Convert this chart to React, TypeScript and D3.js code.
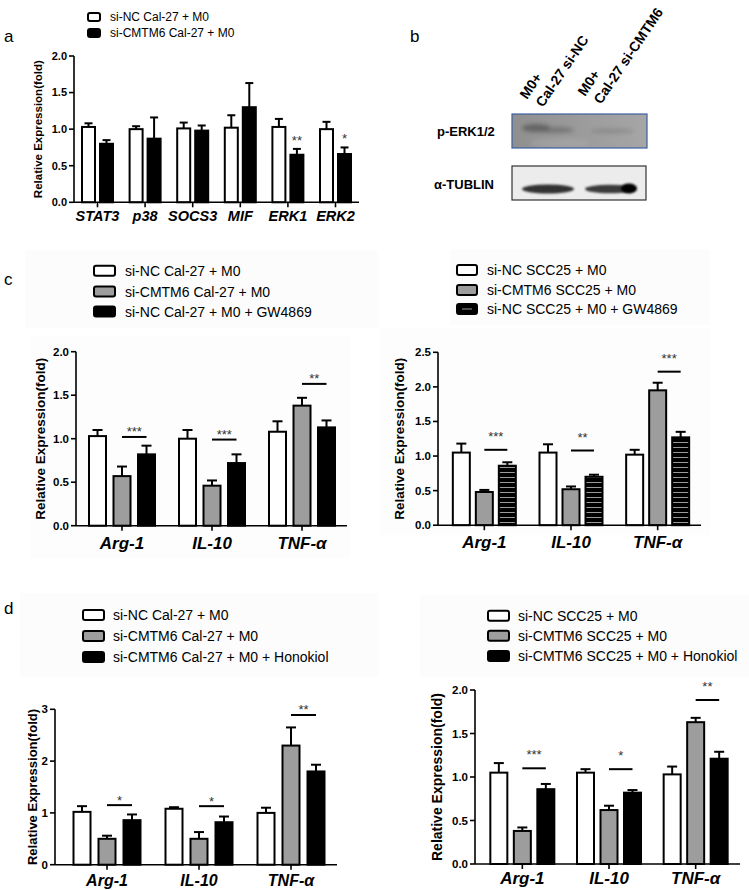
import React from "react";
import * as d3 from "d3";

const FONT = "'Liberation Sans', Arial, Helvetica, sans-serif";

// ---------- Panel a ----------
const A_CATS = ["STAT3", "p38", "SOCS3", "MIF", "ERK1", "ERK2"];
const A_LEGEND = ["si-NC Cal-27 + M0", "si-CMTM6 Cal-27 + M0"];
const A_NC = [1.03, 1.0, 1.01, 1.02, 1.03, 1.0];
const A_NC_SEM = [0.05, 0.04, 0.08, 0.17, 0.11, 0.1];
const A_KD = [0.8, 0.87, 0.98, 1.3, 0.65, 0.66];
const A_KD_SEM = [0.05, 0.29, 0.07, 0.33, 0.08, 0.09];
const A_STARS = ["", "", "", "", "**", "*"];
const A_TICKS = [0, 0.5, 1.0, 1.5, 2.0];

// ---------- Panels c / d ----------
const CYTO_CATS = ["Arg-1", "IL-10", "TNF-α"];

const CL_LEGEND = ["si-NC Cal-27 + M0", "si-CMTM6 Cal-27 + M0", "si-NC Cal-27 + M0 + GW4869"];
const CL_NC = [1.03, 1.0, 1.08];
const CL_NC_SEM = [0.07, 0.1, 0.12];
const CL_KD = [0.57, 0.46, 1.38];
const CL_KD_SEM = [0.11, 0.06, 0.09];
const CL_GW = [0.82, 0.72, 1.13];
const CL_GW_SEM = [0.1, 0.1, 0.08];
const CL_SIG_Y = [1.02, 0.99, 1.63];
const CL_SIG = ["***", "***", "**"];
const CL_TICKS = [0, 0.5, 1.0, 1.5, 2.0];

const CR_LEGEND = ["si-NC SCC25 + M0", "si-CMTM6 SCC25 + M0", "si-NC SCC25 + M0 + GW4869"];
const CR_NC = [1.05, 1.05, 1.02];
const CR_NC_SEM = [0.13, 0.12, 0.07];
const CR_KD = [0.48, 0.52, 1.95];
const CR_KD_SEM = [0.03, 0.04, 0.11];
const CR_GW = [0.86, 0.7, 1.27];
const CR_GW_SEM = [0.05, 0.03, 0.08];
const CR_SIG_Y = [1.09, 1.08, 2.22];
const CR_SIG = ["***", "**", "***"];
const CR_TICKS = [0, 0.5, 1.0, 1.5, 2.0, 2.5];

const DL_LEGEND = ["si-NC Cal-27 + M0", "si-CMTM6 Cal-27 + M0", "si-CMTM6 Cal-27 + M0 + Honokiol"];
const DL_NC = [1.02, 1.08, 1.0];
const DL_NC_SEM = [0.11, 0.03, 0.1];
const DL_KD = [0.5, 0.5, 2.3];
const DL_KD_SEM = [0.06, 0.13, 0.35];
const DL_HK = [0.86, 0.82, 1.8];
const DL_HK_SEM = [0.11, 0.11, 0.13];
const DL_SIG_Y = [1.15, 1.13, 2.89];
const DL_SIG = ["*", "*", "**"];
const DL_TICKS = [0, 1, 2, 3];

const DR_LEGEND = ["si-NC SCC25 + M0", "si-CMTM6 SCC25 + M0", "si-CMTM6 SCC25 + M0 + Honokiol"];
const DR_NC = [1.05, 1.05, 1.03];
const DR_NC_SEM = [0.11, 0.04, 0.09];
const DR_KD = [0.38, 0.62, 1.63];
const DR_KD_SEM = [0.04, 0.05, 0.05];
const DR_HK = [0.86, 0.82, 1.21];
const DR_HK_SEM = [0.06, 0.03, 0.08];
const DR_SIG_Y = [1.1, 1.09, 1.885];
const DR_SIG = ["***", "*", "**"];
const DR_TICKS = [0, 0.5, 1.0, 1.5, 2.0];

const Y_LABEL = "Relative Expression(fold)";

const WHITE = "#ffffff";
const GRAY = "#9d9d9d";
const BLACK = "#000000";
const STRIPE = "url(#hstripe)";

type Series = { values: number[]; sem: number[]; fill: string };

type PanelProps = {
  cats: string[];
  series: Series[];
  yMax: number;
  yRange: [number, number];
  axisX: number;
  axisEnd: number;
  bandRange: [number, number];
  barW: number;
  offset: number;
  ticks: number[];
  fmt: string;
  sigY?: number[];
  sigLabels?: string[];
  sigDy?: number;
  stars?: string[];
  catFs: number;
  catDy: number;
  tickFs: number;
  yLabelX: number;
  yLabelFs: number;
  capW: number;
};

function BarPanel(p: PanelProps) {
  const y = d3.scaleLinear().domain([0, p.yMax]).range(p.yRange);
  const x = d3.scaleBand().domain(p.cats).range(p.bandRange);
  const n = p.series.length;
  const cx = (c: string) => (x(c) as number) + x.bandwidth() / 2;
  const bx = (c: string, k: number) => cx(c) + (k - (n - 1) / 2) * p.offset;
  const f = d3.format(p.fmt);
  const base = p.yRange[0];
  const yMid = (p.yRange[0] + p.yRange[1]) / 2;
  return (
    <g>
      {p.series.map((s, k) =>
        p.cats.map((c, i) => {
          const v = s.values[i];
          const xc = bx(c, k);
          const top = y(v + s.sem[i]);
          return (
            <g key={`b${k}-${i}`}>
              <line x1={xc} x2={xc} y1={y(v)} y2={top} stroke="#000" strokeWidth={2} />
              <line x1={xc - p.capW / 2} x2={xc + p.capW / 2} y1={top} y2={top} stroke="#000" strokeWidth={2} />
              <rect x={xc - p.barW / 2} y={y(v)} width={p.barW} height={base - y(v)} fill={s.fill} stroke="#000" strokeWidth={2} />
            </g>
          );
        })
      )}
      <line x1={p.axisX} x2={p.axisX} y1={p.yRange[1]} y2={base} stroke="#000" strokeWidth={1.6} />
      {p.ticks.map((t) => (
        <g key={`t${t}`}>
          <line x1={p.axisX - 5} x2={p.axisX} y1={y(t)} y2={y(t)} stroke="#000" strokeWidth={1.6} />
          <text x={p.axisX - 7} y={y(t)} dy="0.35em" textAnchor="end" fontSize={p.tickFs} fontWeight="bold" fontFamily={FONT}>
            {f(t)}
          </text>
        </g>
      ))}
      <text
        transform={`translate(${p.yLabelX},${yMid}) rotate(-90)`}
        textAnchor="middle"
        fontSize={p.yLabelFs}
        fontWeight="bold"
        fontFamily={FONT}
      >
        {Y_LABEL}
      </text>
      <line x1={p.axisX} x2={p.axisEnd} y1={base} y2={base} stroke="#000" strokeWidth={1.6} />
      {p.cats.map((c) => (
        <g key={`x${c}`}>
          <line x1={cx(c)} x2={cx(c)} y1={base} y2={base + 5} stroke="#000" strokeWidth={1.6} />
          <text x={cx(c)} y={base + p.catDy} textAnchor="middle" fontSize={p.catFs} fontWeight="bold" fontStyle="italic" fontFamily={FONT}>
            {c}
          </text>
        </g>
      ))}
      {p.sigY &&
        p.cats.map((c, i) => {
          const x1 = bx(c, 1);
          const x2 = bx(c, 2);
          const yy = y(p.sigY![i]);
          return (
            <g key={`s${c}`}>
              <line x1={x1} x2={x2} y1={yy} y2={yy} stroke="#000" strokeWidth={2} />
              <text x={(x1 + x2) / 2} y={yy - (p.sigDy || 0)} textAnchor="middle" fontSize={13} fill="#333" fontFamily={FONT}>
                {p.sigLabels![i]}
              </text>
            </g>
          );
        })}
      {p.stars &&
        p.cats.map((c, i) => {
          const s = p.series[n - 1];
          const top = y(s.values[i] + s.sem[i]);
          return (
            <text key={`st${c}`} x={bx(c, n - 1)} y={top - 4} textAnchor="middle" fontSize={13} fill="#333" fontFamily={FONT}>
              {p.stars![i]}
            </text>
          );
        })}
    </g>
  );
}

function Legend({ x, ys, labels, fills, w, h, fs, gap }: { x: number; ys: number[]; labels: string[]; fills: string[]; w: number; h: number; fs: number; gap: number }) {
  return (
    <g>
      {labels.map((l, i) => (
        <g key={l}>
          <rect x={x} y={ys[i] - h / 2} width={w} height={h} rx={2} fill={fills[i]} stroke="#000" strokeWidth={2} />
          <text x={x + w + gap} y={ys[i]} dy="0.36em" fontSize={fs} fontFamily={FONT}>
            {l}
          </text>
        </g>
      ))}
    </g>
  );
}

function Blot() {
  return (
    <g>
      <defs>
        <filter id="blur2" x="-30%" y="-100%" width="160%" height="300%">
          <feGaussianBlur stdDeviation="2" />
        </filter>
        <filter id="blur1" x="-30%" y="-100%" width="160%" height="300%">
          <feGaussianBlur stdDeviation="1.3" />
        </filter>
        <linearGradient id="upperBg" x1="0" x2="1" y1="0" y2="0">
          <stop offset="0" stopColor="#8f8f8f" />
          <stop offset="0.45" stopColor="#9a9a9a" />
          <stop offset="1" stopColor="#a6a6a6" />
        </linearGradient>
        <clipPath id="upClip">
          <rect x={512} y={114} width={135} height={34} />
        </clipPath>
        <clipPath id="loClip">
          <rect x={512} y={166} width={134} height={34} />
        </clipPath>
      </defs>
      <g transform="translate(527,100) rotate(-56)">
        <text x={0} y={0} fontSize={14} fontWeight="bold" fontFamily={FONT}>M0+</text>
        <text x={2.3} y={17.7} fontSize={14} fontWeight="bold" fontFamily={FONT}>Cal-27 si-NC</text>
      </g>
      <g transform="translate(585,97) rotate(-56)">
        <text x={0} y={0} fontSize={14} fontWeight="bold" fontFamily={FONT}>M0+</text>
        <text x={2.3} y={17.7} fontSize={14} fontWeight="bold" fontFamily={FONT}>Cal-27 si-CMTM6</text>
      </g>
      <text x={437} y={131} dy="0.35em" fontSize={13} fontWeight="bold" fontFamily={FONT}>p-ERK1/2</text>
      <text x={434} y={184} dy="0.35em" fontSize={13} fontWeight="bold" fontFamily={FONT}>α-TUBLIN</text>
      <g clipPath="url(#upClip)">
        <rect x={512} y={114} width={135} height={34} fill="url(#upperBg)" />
        <ellipse cx={536} cy={128} rx={14} ry={4} fill="#444" opacity={0.6} filter="url(#blur2)" />
        <ellipse cx={558} cy={130} rx={16} ry={3} fill="#555" opacity={0.5} filter="url(#blur2)" />
        <ellipse cx={612} cy={131} rx={22} ry={2.5} fill="#666" opacity={0.35} filter="url(#blur2)" />
        <ellipse cx={560} cy={143} rx={30} ry={5} fill="#b8b8b8" opacity={0.3} filter="url(#blur2)" />
      </g>
      <rect x={512} y={114} width={135} height={34} fill="none" stroke="#3c5f9e" strokeWidth={1.2} />
      <g clipPath="url(#loClip)">
        <rect x={512} y={166} width={134} height={34} fill="#ececec" />
        <ellipse cx={548} cy={189} rx={26} ry={4.5} fill="#333" filter="url(#blur1)" />
        <ellipse cx={610} cy={189} rx={25} ry={4.3} fill="#3a3a3a" filter="url(#blur1)" />
        <ellipse cx={629} cy={188.5} rx={8} ry={5} fill="#050505" filter="url(#blur1)" />
      </g>
      <rect x={512} y={166} width={134} height={34} fill="none" stroke="#333" strokeWidth={1.2} />
    </g>
  );
}

export default function App() {
  const aSeries: Series[] = [
    { values: A_NC, sem: A_NC_SEM, fill: WHITE },
    { values: A_KD, sem: A_KD_SEM, fill: BLACK },
  ];
  const clSeries: Series[] = [
    { values: CL_NC, sem: CL_NC_SEM, fill: WHITE },
    { values: CL_KD, sem: CL_KD_SEM, fill: GRAY },
    { values: CL_GW, sem: CL_GW_SEM, fill: BLACK },
  ];
  const crSeries: Series[] = [
    { values: CR_NC, sem: CR_NC_SEM, fill: WHITE },
    { values: CR_KD, sem: CR_KD_SEM, fill: GRAY },
    { values: CR_GW, sem: CR_GW_SEM, fill: STRIPE },
  ];
  const dlSeries: Series[] = [
    { values: DL_NC, sem: DL_NC_SEM, fill: WHITE },
    { values: DL_KD, sem: DL_KD_SEM, fill: GRAY },
    { values: DL_HK, sem: DL_HK_SEM, fill: BLACK },
  ];
  const drSeries: Series[] = [
    { values: DR_NC, sem: DR_NC_SEM, fill: WHITE },
    { values: DR_KD, sem: DR_KD_SEM, fill: GRAY },
    { values: DR_HK, sem: DR_HK_SEM, fill: BLACK },
  ];
  return (
    <svg width={749} height={890} style={{ position: "absolute", left: 0, top: 0, background: "#fff" }} fontFamily={FONT}>
      <defs>
        <pattern id="hstripe" patternUnits="userSpaceOnUse" width={6} height={5}>
          <rect width={6} height={5} fill="#000" />
          <rect y={2} width={6} height={1} fill="#9a9a9a" />
        </pattern>
      </defs>
      <rect width={749} height={890} fill="#fff" />
      <rect x={25} y={250} width={353} height={78} fill="#fcfcfc" />
      <rect x={30} y={336} width={320} height={222} fill="#fdfdfd" />
      <rect x={450} y={249} width={260} height={76} fill="#fcfcfc" />
      <rect x={380} y={328} width={330} height={207} fill="#fdfdfd" />
      <rect x={20} y={593} width={358} height={84} fill="#fcfcfc" />
      <rect x={420} y={595} width={329} height={82} fill="#fcfcfc" />

      <text x={4} y={42} fontSize={17} fontFamily={FONT}>a</text>
      <text x={410} y={42} fontSize={17} fontFamily={FONT}>b</text>
      <text x={4} y={285} fontSize={17} fontFamily={FONT}>c</text>
      <text x={4} y={614} fontSize={17} fontFamily={FONT}>d</text>

      <Legend x={88} ys={[17, 33]} labels={A_LEGEND} fills={[WHITE, BLACK]} w={12} h={8} fs={12} gap={10} />
      <BarPanel
        cats={A_CATS}
        series={aSeries}
        yMax={2}
        yRange={[202.3, 56]}
        axisX={74}
        axisEnd={359}
        bandRange={[73.7, 359.3]}
        barW={13}
        offset={18}
        ticks={A_TICKS}
        fmt=".1f"
        stars={A_STARS}
        catFs={14.5}
        catDy={19}
        tickFs={11}
        yLabelX={42}
        yLabelFs={11.5}
        capW={8}
      />

      <Blot />

      <Legend x={94} ys={[270.7, 291.5, 311.5]} labels={CL_LEGEND} fills={[WHITE, GRAY, BLACK]} w={21} h={10} fs={14} gap={10} />
      <BarPanel
        cats={CYTO_CATS}
        series={clSeries}
        yMax={2}
        yRange={[525.7, 351.7]}
        axisX={76}
        axisEnd={347}
        bandRange={[77, 347]}
        barW={17}
        offset={24.5}
        ticks={CL_TICKS}
        fmt=".1f"
        sigY={CL_SIG_Y}
        sigLabels={CL_SIG}
        sigDy={1}
        catFs={17}
        catDy={23}
        tickFs={11.5}
        yLabelX={45}
        yLabelFs={13.5}
        capW={10}
      />

      <Legend x={457} ys={[270, 290, 309]} labels={CR_LEGEND} fills={[WHITE, GRAY, BLACK]} w={20} h={10} fs={14} gap={10} />
      <line x1={462} x2={472} y1={309} y2={309} stroke="#9a9a9a" strokeWidth={1} />
      <BarPanel
        cats={CYTO_CATS}
        series={crSeries}
        yMax={2.5}
        yRange={[525.2, 352.3]}
        axisX={438}
        axisEnd={701}
        bandRange={[441, 701]}
        barW={17}
        offset={23}
        ticks={CR_TICKS}
        fmt=".1f"
        sigY={CR_SIG_Y}
        sigLabels={CR_SIG}
        sigDy={8.5}
        catFs={17}
        catDy={23}
        tickFs={11.5}
        yLabelX={404}
        yLabelFs={13.5}
        capW={10}
      />

      <Legend x={83} ys={[615, 636, 657]} labels={DL_LEGEND} fills={[WHITE, GRAY, BLACK]} w={21} h={10} fs={14} gap={9} />
      <BarPanel
        cats={CYTO_CATS}
        series={dlSeries}
        yMax={3}
        yRange={[864.7, 709.3]}
        axisX={55}
        axisEnd={337}
        bandRange={[61, 337]}
        barW={17}
        offset={25}
        ticks={DL_TICKS}
        fmt="d"
        sigY={DL_SIG_Y}
        sigLabels={DL_SIG}
        sigDy={0.5}
        catFs={16}
        catDy={21}
        tickFs={11.5}
        yLabelX={37}
        yLabelFs={13}
        capW={10}
      />

      <Legend x={488} ys={[615.7, 635.7, 656]} labels={DR_LEGEND} fills={[WHITE, GRAY, BLACK]} w={21} h={10} fs={14} gap={9} />
      <BarPanel
        cats={CYTO_CATS}
        series={drSeries}
        yMax={2}
        yRange={[864, 690]}
        axisX={475}
        axisEnd={740}
        bandRange={[479, 739]}
        barW={17}
        offset={23.5}
        ticks={DR_TICKS}
        fmt=".1f"
        sigY={DR_SIG_Y}
        sigLabels={DR_SIG}
        sigDy={9}
        catFs={17}
        catDy={20}
        tickFs={11.5}
        yLabelX={442}
        yLabelFs={14}
        capW={10}
      />
    </svg>
  );
}
